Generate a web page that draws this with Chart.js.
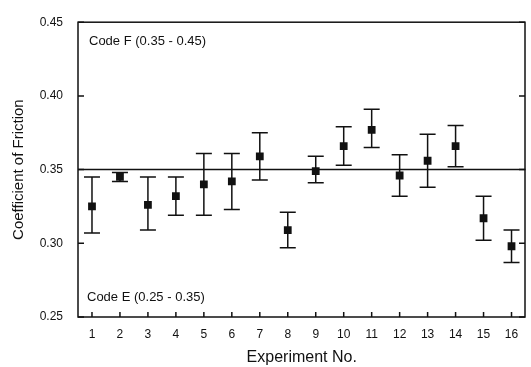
<!DOCTYPE html>
<html>
<head>
<meta charset="utf-8">
<script src="https://cdn.jsdelivr.net/npm/chart.js@4"></script>
<style>
  html, body { margin: 0; padding: 0; background: #fff; }
  #wrap { width: 531px; height: 367px; }
</style>
</head>
<body>
<div id="wrap"><canvas id="frictionChart" width="531" height="367"></canvas></div>
<script>
// values
const experiments = [1, 2, 3, 4, 5, 6, 7, 8, 9, 10, 11, 12, 13, 14, 15, 16];
const cof     = [0.325, 0.345, 0.326, 0.332, 0.340, 0.342, 0.359, 0.309, 0.349, 0.366, 0.377, 0.346, 0.356, 0.366, 0.317, 0.298];
const errLow  = [0.307, 0.342, 0.309, 0.319, 0.319, 0.323, 0.343, 0.297, 0.341, 0.353, 0.365, 0.332, 0.338, 0.352, 0.302, 0.287];
const errHigh = [0.345, 0.348, 0.345, 0.345, 0.361, 0.361, 0.375, 0.321, 0.359, 0.379, 0.391, 0.360, 0.374, 0.380, 0.332, 0.309];
const yTicks = [0.25, 0.30, 0.35, 0.40, 0.45];
const boundary = 0.35;
const codeLabels = ['Code F (0.35 - 0.45)', 'Code E (0.25 - 0.35)'];

const FONT = "'Liberation Sans', Arial, Helvetica, sans-serif";
const INK = '#111';

// frame, inward ticks, error bars, boundary line, code notes
const decorations = {
    id: 'decorations',
    beforeDatasetsDraw(chart) {
        const { ctx, chartArea: a, scales: { x, y } } = chart;
        ctx.save();
        ctx.strokeStyle = INK;
        ctx.lineCap = 'butt';

        // error bars
        ctx.lineWidth = 1.5;
        experiments.forEach((e, i) => {
            const px = x.getPixelForValue(e);
            const lo = y.getPixelForValue(errLow[i]);
            const hi = y.getPixelForValue(errHigh[i]);
            ctx.beginPath();
            ctx.moveTo(px, lo); ctx.lineTo(px, hi);
            ctx.moveTo(px - 8, lo); ctx.lineTo(px + 8, lo);
            ctx.moveTo(px - 8, hi); ctx.lineTo(px + 8, hi);
            ctx.stroke();
        });

        // boundary line
        const by = y.getPixelForValue(boundary);
        ctx.beginPath();
        ctx.moveTo(a.left, by); ctx.lineTo(a.right, by);
        ctx.stroke();

        // frame
        ctx.strokeRect(a.left, a.top, a.right - a.left - 0.5, a.bottom - a.top);

        // ticks pointing in
        ctx.beginPath();
        yTicks.forEach(v => {
            const py = y.getPixelForValue(v);
            ctx.moveTo(a.left, py); ctx.lineTo(a.left + 6, py);
            ctx.moveTo(a.right - 0.5, py); ctx.lineTo(a.right - 6.5, py);
        });
        experiments.forEach(e => {
            const px = x.getPixelForValue(e);
            ctx.moveTo(px, a.bottom); ctx.lineTo(px, a.bottom - 5);
        });
        ctx.stroke();

        // code notes
        ctx.fillStyle = INK;
        ctx.font = '13px ' + FONT;
        ctx.textAlign = 'left';
        ctx.textBaseline = 'alphabetic';
        ctx.fillText(codeLabels[0], a.left + 11, a.top + 22.5);
        ctx.fillText(codeLabels[1], a.left + 9, a.bottom - 16);
        ctx.restore();
    }
};

new Chart(document.getElementById('frictionChart').getContext('2d'), {
    type: 'scatter',
    data: {
        datasets: [{
            data: experiments.map((e, i) => ({ x: e, y: cof[i] })),
            pointStyle: 'rect',
            pointRadius: 5.5,
            pointHoverRadius: 5.5,
            backgroundColor: INK,
            borderColor: INK,
            borderWidth: 0
        }]
    },
    options: {
        responsive: false,
        animation: false,
        devicePixelRatio: 1,
        layout: { padding: { top: 17, right: 0, left: 0, bottom: 0 } },
        plugins: { legend: { display: false }, tooltip: { enabled: false } },
        scales: {
            x: {
                type: 'linear',
                min: 0.5,
                max: 16.5,
                afterBuildTicks: s => { s.ticks = experiments.map(v => ({ value: v })); },
                afterFit: s => { s.height = 50; },
                grid: { display: false, drawTicks: false },
                border: { display: false },
                ticks: { color: INK, padding: 10, font: { family: FONT, size: 12 } },
                title: {
                    display: true,
                    text: 'Experiment No.',
                    color: INK,
                    font: { family: FONT, size: 16 },
                    padding: { top: 0, bottom: 0 }
                }
            },
            y: {
                min: 0.25,
                max: 0.45,
                afterBuildTicks: s => { s.ticks = yTicks.map(v => ({ value: v })); },
                afterFit: s => { s.width = 78; },
                grid: { display: false, drawTicks: false },
                border: { display: false },
                ticks: {
                    color: INK,
                    padding: 15,
                    font: { family: FONT, size: 12 },
                    callback: v => v.toFixed(2)
                },
                title: {
                    display: true,
                    text: 'Coefficient of Friction',
                    color: INK,
                    font: { family: FONT, size: 15 },
                    padding: { top: 10, bottom: 0 }
                }
            }
        }
    },
    plugins: [decorations]
});
</script>
</body>
</html>
